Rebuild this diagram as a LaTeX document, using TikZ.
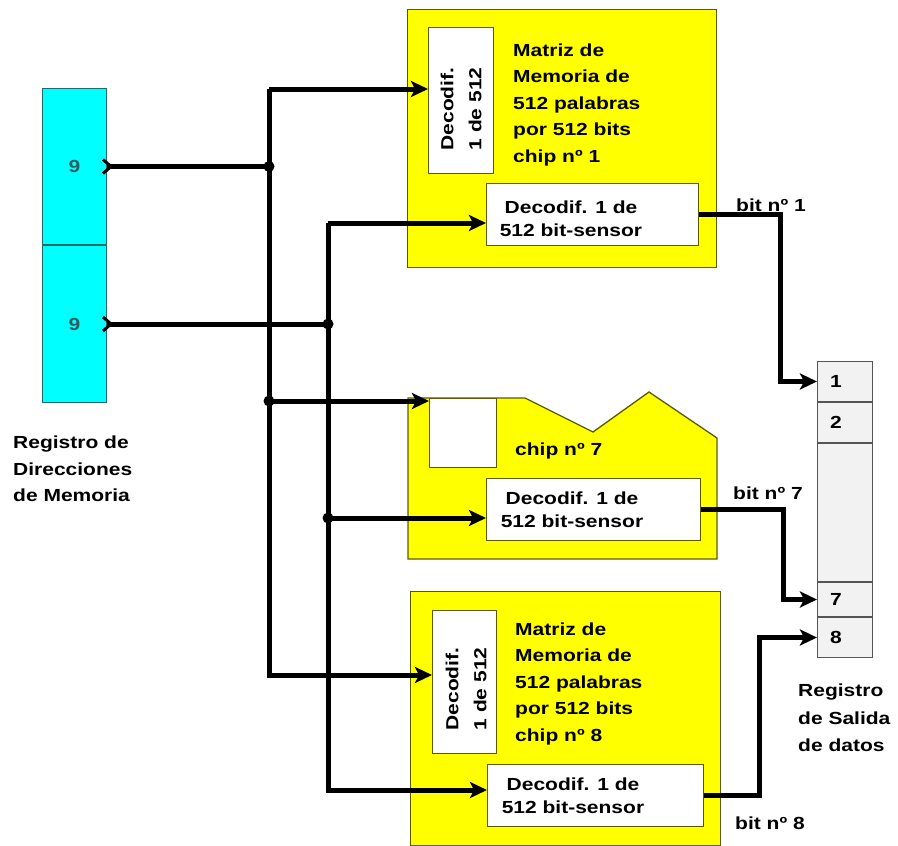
\documentclass[tikz,border=0pt]{standalone}
\usepackage{fontspec}
\setmainfont{Liberation Sans}[FakeStretch=1.2]
\usetikzlibrary{
	positioning,
	arrows.meta
}
\definecolor{chipyellow}{HTML}{FFFF00}
\definecolor{chipedge}{HTML}{5C5A00}
\definecolor{regcyan}{HTML}{00FFFF}
\definecolor{regedge}{HTML}{1E6B6B}
\definecolor{ninecolor}{HTML}{2E5E5E}
\definecolor{outfill}{HTML}{F2F2F2}
\definecolor{outedge}{HTML}{555555}
\tikzset{
	every node/.style={
		inner sep=0pt,
		font=\bfseries\fontsize{17.5}{26.5}\selectfont
	},
	chipbox/.style={
		draw=chipedge,
		fill=chipyellow,
		line width=1.3pt,
		anchor=north west
	},
	chipshape/.style={
		draw=chipedge,
		fill=chipyellow,
		line width=1.3pt
	},
	decbox/.style={
		draw=chipedge,
		fill=white,
		line width=1.3pt,
		anchor=north west
	},
	dectext/.style={
		align=center,
		font=\bfseries\fontsize{17.5}{28}\selectfont
	},
	sentext/.style={
		align=center,
		font=\bfseries\fontsize{17.5}{23}\selectfont
	},
	mattext/.style={
		align=left,
		anchor=north west
	},
	regcell/.style={
		draw=regedge,
		fill=regcyan,
		line width=1pt,
		text=ninecolor,
		anchor=north west
	},
	outcell/.style={
		draw=outedge,
		fill=outfill,
		line width=1pt,
		minimum width=55,
		text width=30,
		align=left,
		anchor=north west
	},
	lbl/.style={
		align=left
	},
	wire/.style={
		line width=5pt,
		color=black
	},
	arrow/.style={
		wire,
		-{Stealth[length=17pt,width=16pt,inset=4pt]}
	},
	junct/.style={
		circle,
		fill=black,
		minimum size=11pt
	}
}
\newcommand{\chevron}[1]{\draw[wire, line width=3pt] (#1) ++(-4,-7) -- ++(8,7) -- ++(-8,7);}

\begin{document}
\begin{tikzpicture}[x=1pt, y=-1pt]
	\useasboundingbox (0,0) rectangle (898,846);
	
	% Nodes
	% Left side: address register
	\node[regcell, minimum width=64, minimum height=156] (regA) at (42,88) {9};
	\node[regcell, minimum width=64, minimum height=157, below=0pt of regA] (regB) {9};
	\node[lbl, anchor=north west] (regAddrLbl) at (13,435.7)
	{Registro de\\Direcciones\\de Memoria};
	
	% Chip 1
	\node[chipbox, minimum width=309, minimum height=258] (chip1) at (407,9) {};
	\node[decbox, minimum width=65, minimum height=146] (dec1) at (428,27) {};
	\node[dectext, rotate=90] (dec1txt) at (461,109) {Decodif.\\1 de 512};
	\node[mattext] (mat1) at (513,43.5)
	{Matriz de\\Memoria de\\512 palabras\\por 512 bits\\chip nº 1};
	\node[decbox, minimum width=212, minimum height=62] (sen1) at (486,183) {};
	\node[sentext] (sen1txt) at (571,219) {Decodif. 1 de\\512 bit-sensor};
	
	% Chip 7 (cut away)
	\draw[chipshape] (408,398) -- (525,398) -- (593,432) -- (649,392) -- (717,438)
	-- (717,559) -- (408,559) -- cycle;
	\node[decbox, minimum width=67, minimum height=69] (box7) at (429,398) {};
	\node[lbl, anchor=base west] (chip7txt) at (515,455) {chip nº 7};
	\node[decbox, minimum width=214, minimum height=62] (sen7) at (486,478) {};
	\node[sentext] (sen7txt) at (572,510) {Decodif. 1 de\\512 bit-sensor};
	
	% Chip 8
	\node[chipbox, minimum width=310, minimum height=254] (chip8) at (410,591) {};
	\node[decbox, minimum width=64, minimum height=143] (dec8) at (432,610) {};
	\node[dectext, rotate=90] (dec8txt) at (466,689) {Decodif.\\1 de 512};
	\node[mattext] (mat8) at (515,622.5)
	{Matriz de\\Memoria de\\512 palabras\\por 512 bits\\chip nº 8};
	\node[decbox, minimum width=216, minimum height=62] (sen8) at (487,764) {};
	\node[sentext] (sen8txt) at (573,796) {Decodif. 1 de\\512 bit-sensor};
	
	% Right side: output register
	\node[outcell, minimum height=40] (cell1) at (817,361) {1};
	\node[outcell, minimum height=40, below=0pt of cell1] (cell2) {2};
	\node[outcell, minimum height=138, below=0pt of cell2] (cellgap) {};
	\node[outcell, minimum height=34, below=0pt of cellgap] (cell7) {7};
	\node[outcell, minimum height=40, below=0pt of cell7] (cell8) {8};
	\node[lbl, anchor=north west, font=\bfseries\fontsize{17.5}{27.5}\selectfont]
	(regOutLbl) at (798,683.7) {Registro\\de Salida\\de datos};
	
	% Bit labels
	\node[lbl, anchor=base west] (bit1) at (736,211) {bit nº 1};
	\node[lbl, anchor=base west] (bit7) at (733,499) {bit nº 7};
	\node[lbl, anchor=base west] (bit8) at (735,829) {bit nº 8};
	
	% Bus corners
	\coordinate (b1top) at (269,89);
	\coordinate (b1mid) at (269,401);
	\coordinate (b1bot) at (269,675);
	\coordinate (b2top) at (328,223);
	\coordinate (b2mid) at (328,518);
	\coordinate (b2bot) at (328,790);
	
	% Arrows
	% Register to buses
	\draw[wire] (regA.east) -- (regA.east -| b1top) node[junct] (dotA) {};
	\draw[wire] (regB.east) -- (regB.east -| b2top) node[junct] (dotB) {};
	\chevron{regA.east}
	\chevron{regB.east}
	
	% Row bus to the decoders
	\draw[arrow] (b1top) -- (b1top -| dec1.west);
	\draw[arrow] (b1top) -- (b1bot) -- (b1bot -| dec8.west);
	\draw[arrow] (b1mid) -- (b1mid -| box7.west);
	\node[junct] (dotC) at (b1mid) {};
	
	% Column bus to the sensors
	\draw[arrow] (b2top) -- (b2top -| sen1.west);
	\draw[arrow] (b2top) -- (b2bot) -- (b2bot -| sen8.west);
	\draw[arrow] (b2mid) -- (b2mid -| sen7.west);
	\node[junct] (dotD) at (b2mid) {};
	
	% Sensors to output register
	\draw[arrow] (sen1.east) -- ++(81,0) |- (cell1.west);
	\draw[arrow] (sen7.east) -- ++(82,0) |- (cell7.west);
	\draw[arrow] (sen8.east) -- ++(55,0) |- (cell8.west);
	
\end{tikzpicture}
\end{document}
